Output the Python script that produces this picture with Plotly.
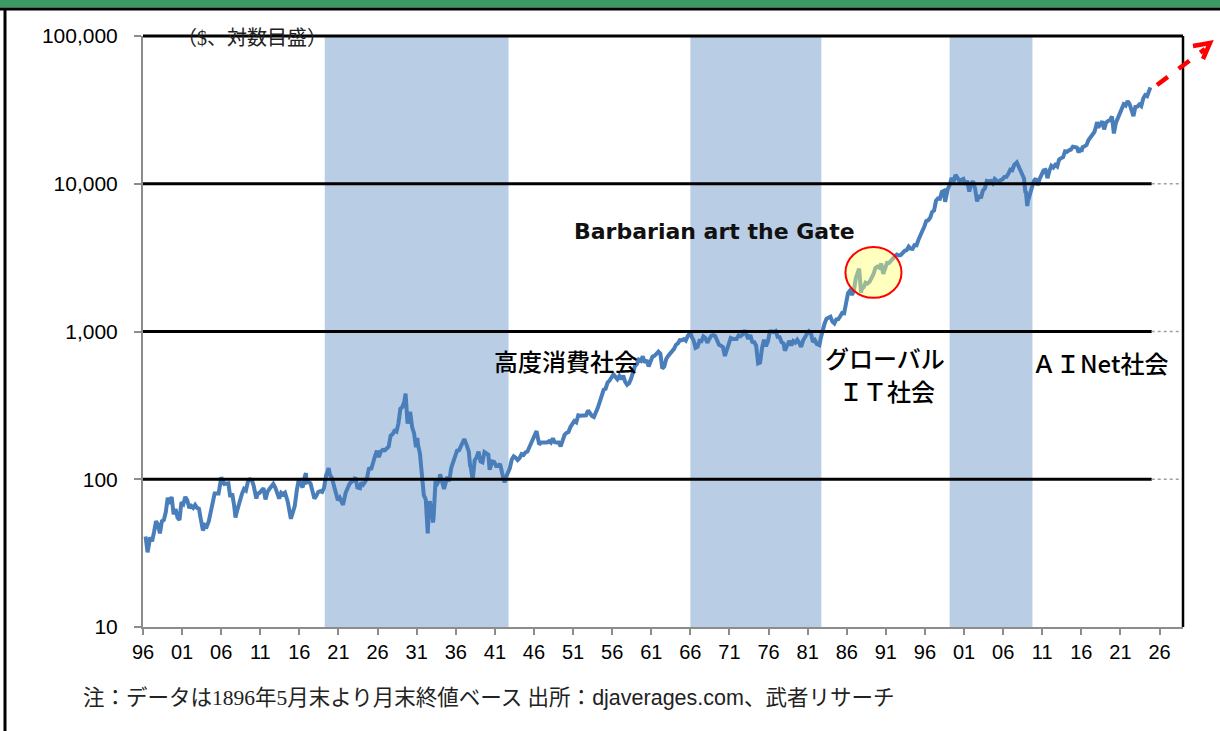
import plotly.graph_objects as go

# ---------------- data ----------------
dates = [
 "1896-05","1896-08","1896-12",
 "1897-03","1897-06","1897-09","1897-12",
 "1898-03","1898-06","1898-09","1898-12",
 "1899-03","1899-06","1899-09","1899-12",
 "1900-03","1900-06","1900-09","1900-12",
 "1901-03","1901-06","1901-09","1901-12",
 "1902-03","1902-06","1902-09","1902-12",
 "1903-03","1903-06","1903-09","1903-12",
 "1904-03","1904-06","1904-09","1904-12",
 "1905-03","1905-06","1905-09","1905-12",
 "1906-01","1906-06","1906-09","1906-12",
 "1907-03","1907-06","1907-09","1907-11","1907-12",
 "1908-03","1908-06","1908-09","1908-12",
 "1909-03","1909-06","1909-09","1909-12",
 "1910-03","1910-07","1910-09","1910-12",
 "1911-03","1911-06","1911-09","1911-12",
 "1912-03","1912-06","1912-09","1912-12",
 "1913-03","1913-06","1913-09","1913-12",
 "1914-03","1914-07","1914-12",
 "1915-03","1915-06","1915-09","1915-12",
 "1916-03","1916-06","1916-09","1916-11","1916-12",
 "1917-03","1917-06","1917-09","1917-12",
 "1918-03","1918-06","1918-09","1918-12",
 "1919-03","1919-06","1919-10","1919-12",
 "1920-03","1920-06","1920-09","1920-12",
 "1921-03","1921-06","1921-08","1921-12",
 "1922-03","1922-06","1922-09","1922-12",
 "1923-03","1923-06","1923-10","1923-12",
 "1924-03","1924-06","1924-09","1924-12",
 "1925-03","1925-06","1925-09","1925-12",
 "1926-03","1926-06","1926-09","1926-12",
 "1927-03","1927-06","1927-09","1927-12",
 "1928-03","1928-06","1928-09","1928-12",
 "1929-03","1929-06","1929-08","1929-10","1929-11","1929-12",
 "1930-03","1930-06","1930-09","1930-12",
 "1931-02","1931-03","1931-06","1931-09","1931-12",
 "1932-03","1932-05","1932-06","1932-07","1932-09","1932-12",
 "1933-02","1933-03","1933-06","1933-07","1933-09","1933-12",
 "1934-01","1934-03","1934-07","1934-12",
 "1935-03","1935-06","1935-09","1935-12",
 "1936-03","1936-06","1936-09","1936-12",
 "1937-02","1937-06","1937-09","1937-11","1937-12",
 "1938-03","1938-06","1938-09","1938-12",
 "1939-03","1939-06","1939-09","1939-12",
 "1940-03","1940-05","1940-09","1940-12",
 "1941-03","1941-06","1941-09","1941-12",
 "1942-04","1942-06","1942-09","1942-12",
 "1943-03","1943-06","1943-09","1943-12",
 "1944-03","1944-06","1944-09","1944-12",
 "1945-03","1945-06","1945-09","1945-12",
 "1946-03","1946-05","1946-09","1946-12",
 "1947-03","1947-06","1947-09","1947-12",
 "1948-03","1948-06","1948-09","1948-12",
 "1949-03","1949-06","1949-09","1949-12",
 "1950-03","1950-06","1950-09","1950-12",
 "1951-03","1951-06","1951-09","1951-12",
 "1952-03","1952-06","1952-09","1952-12",
 "1953-03","1953-06","1953-09","1953-12",
 "1954-03","1954-06","1954-09","1954-12",
 "1955-03","1955-06","1955-09","1955-12",
 "1956-03","1956-06","1956-09","1956-12",
 "1957-03","1957-06","1957-09","1957-12",
 "1958-03","1958-06","1958-09","1958-12",
 "1959-03","1959-06","1959-09","1959-12",
 "1960-03","1960-06","1960-09","1960-12",
 "1961-03","1961-06","1961-09","1961-12",
 "1962-03","1962-06","1962-09","1962-12",
 "1963-03","1963-06","1963-09","1963-12",
 "1964-03","1964-06","1964-09","1964-12",
 "1965-03","1965-06","1965-09","1965-12",
 "1966-01","1966-03","1966-06","1966-09","1966-12",
 "1967-03","1967-06","1967-09","1967-12",
 "1968-03","1968-06","1968-09","1968-12",
 "1969-03","1969-06","1969-09","1969-12",
 "1970-03","1970-06","1970-09","1970-12",
 "1971-03","1971-06","1971-09","1971-12",
 "1972-03","1972-06","1972-09","1972-12",
 "1973-03","1973-06","1973-09","1973-12",
 "1974-03","1974-06","1974-09","1974-12",
 "1975-03","1975-06","1975-09","1975-12",
 "1976-03","1976-06","1976-09","1976-12",
 "1977-03","1977-06","1977-09","1977-12",
 "1978-02","1978-06","1978-09","1978-12",
 "1979-03","1979-06","1979-09","1979-12",
 "1980-03","1980-06","1980-09","1980-12",
 "1981-03","1981-06","1981-09","1981-12",
 "1982-03","1982-07","1982-09","1982-12",
 "1983-03","1983-06","1983-09","1983-12",
 "1984-03","1984-06","1984-09","1984-12",
 "1985-03","1985-06","1985-09","1985-12",
 "1986-03","1986-06","1986-09","1986-12",
 "1987-03","1987-08","1987-10","1987-11","1987-12",
 "1988-03","1988-06","1988-09","1988-12",
 "1989-03","1989-06","1989-09","1989-12",
 "1990-03","1990-06","1990-09","1990-12",
 "1991-03","1991-06","1991-09","1991-12",
 "1992-03","1992-06","1992-09","1992-12",
 "1993-03","1993-06","1993-09","1993-12",
 "1994-03","1994-06","1994-09","1994-12",
 "1995-03","1995-06","1995-09","1995-12",
 "1996-03","1996-06","1996-09","1996-12",
 "1997-03","1997-06","1997-09","1997-12",
 "1998-03","1998-06","1998-08","1998-12",
 "1999-03","1999-06","1999-09","1999-12",
 "2000-03","2000-06","2000-09","2000-12",
 "2001-03","2001-06","2001-09","2001-12",
 "2002-03","2002-06","2002-09","2002-12",
 "2003-03","2003-06","2003-09","2003-12",
 "2004-03","2004-06","2004-09","2004-12",
 "2005-03","2005-06","2005-09","2005-12",
 "2006-03","2006-06","2006-09","2006-12",
 "2007-03","2007-06","2007-10","2007-12",
 "2008-03","2008-06","2008-09","2008-11","2008-12",
 "2009-02","2009-03","2009-06","2009-09","2009-12",
 "2010-03","2010-06","2010-09","2010-12",
 "2011-03","2011-06","2011-09","2011-12",
 "2012-03","2012-06","2012-09","2012-12",
 "2013-03","2013-06","2013-09","2013-12",
 "2014-03","2014-06","2014-09","2014-12",
 "2015-03","2015-06","2015-09","2015-12",
 "2016-01","2016-03","2016-06","2016-09","2016-12",
 "2017-03","2017-06","2017-09","2017-12",
 "2018-01","2018-03","2018-09","2018-12",
 "2019-03","2019-06","2019-09","2019-12",
 "2020-03","2020-06","2020-09","2020-12",
 "2021-03","2021-06","2021-09","2021-12",
 "2022-03","2022-06","2022-09","2022-12",
 "2023-03","2023-06","2023-09","2023-12",
 "2024-03","2024-06","2024-09","2024-11",
]

dow = [
 40.9, 32, 40.5,
 38, 44, 52, 49,
 43, 52, 53, 60,
 75, 68, 76, 58,
 63, 55, 53, 70,
 68, 76, 72, 64,
 66, 64, 67, 64,
 63, 53, 45, 49,
 48, 52, 59, 69,
 80, 80, 80, 96,
 103, 93, 94, 94,
 76, 80, 66, 55, 58,
 65, 75, 80, 86,
 84, 96, 100, 99,
 90, 74, 80, 81,
 84, 87, 73, 82,
 86, 89, 93, 88,
 80, 74, 81, 79,
 81, 71, 54,
 61, 66, 84, 99,
 93, 88, 103, 110, 95,
 96, 94, 83, 74,
 77, 82, 83, 82,
 88, 106, 119, 107,
 102, 91, 82, 72,
 75, 68, 67, 81,
 87, 93, 96, 98,
 103, 88, 87, 95,
 92, 96, 103, 120,
 116, 131, 143, 156,
 141, 154, 158, 157,
 161, 166, 197, 202,
 213, 210, 239, 300,
 308, 333, 380, 273, 238, 248,
 286, 226, 204, 165,
 190, 172, 150, 97, 78,
 73, 45, 43, 54, 71, 60,
 51, 55, 98, 90, 94, 100,
 108, 101, 86, 104,
 97, 119, 132, 144,
 156, 157, 167, 180,
 187, 169, 154, 123, 121,
 99, 134, 141, 154,
 132, 130, 153, 150,
 147, 116, 132, 131,
 123, 123, 127, 111,
 95, 103, 109, 119,
 136, 143, 140, 135,
 139, 148, 146, 152,
 154, 165, 181, 193,
 200, 212, 172, 177,
 177, 177, 177, 181,
 177, 189, 178, 177,
 177, 167, 182, 200,
 206, 209, 226, 235,
 248, 243, 271, 269,
 270, 274, 271, 292,
 280, 268, 264, 281,
 304, 334, 361, 404,
 410, 451, 466, 488,
 512, 493, 475, 500,
 475, 503, 456, 436,
 446, 478, 532, 584,
 602, 644, 632, 679,
 616, 641, 580, 616,
 676, 684, 701, 731,
 707, 561, 579, 652,
 683, 707, 733, 763,
 814, 832, 875, 874,
 889, 868, 931, 969,
 984, 924, 870, 774, 786,
 865, 860, 927, 905,
 840, 898, 935, 944,
 935, 873, 813, 800,
 786, 683, 760, 839,
 904, 891, 887, 890,
 940, 929, 953, 1020,
 951, 891, 947, 851,
 847, 802, 608, 616,
 768, 879, 794, 852,
 999, 1003, 990, 1005,
 919, 916, 847, 831,
 742, 819, 866, 805,
 862, 842, 879, 839,
 786, 868, 932, 964,
 1004, 977, 850, 875,
 823, 809, 896, 1047,
 1130, 1222, 1233, 1259,
 1165, 1132, 1207, 1212,
 1267, 1336, 1329, 1547,
 1819, 1893, 1768, 1896,
 2305, 2663, 1994, 1834, 1939,
 1989, 2142, 2113, 2169,
 2294, 2441, 2693, 2753,
 2707, 2881, 2453, 2634,
 2914, 2907, 3017, 3169,
 3236, 3319, 3272, 3301,
 3436, 3516, 3555, 3754,
 3636, 3625, 3843, 3834,
 4158, 4556, 4789, 5117,
 5588, 5655, 5882, 6448,
 6584, 7673, 7945, 7908,
 8800, 8952, 7539, 9181,
 9786, 10971, 10337, 11497,
 10922, 10448, 10651, 10788,
 9879, 10502, 8848, 10022,
 10404, 9243, 7592, 8342,
 7992, 8985, 9275, 10454,
 10358, 10435, 10080, 10783,
 10504, 10275, 10569, 10718,
 11109, 11150, 11679, 12463,
 12354, 13409, 13930, 13265,
 12263, 11350, 10851, 8829, 8776,
 7063, 7609, 8447, 9712, 10428,
 10857, 9774, 10788, 11578,
 12320, 12414, 10913, 12218,
 13212, 12880, 13437, 13104,
 14579, 14910, 15130, 16577,
 16458, 16827, 17043, 17823,
 17776, 17620, 16285, 17425,
 16466, 17685, 17930, 18308, 19763,
 20663, 21350, 22405, 24719,
 26149, 24103, 26458, 23327,
 25929, 26600, 26917, 28538,
 21917, 25813, 27782, 30606,
 32982, 34503, 33844, 36338,
 34678, 30775, 28726, 33147,
 33274, 34408, 33508, 37690,
 39807, 39119, 42330, 44910,
]
assert len(dates) == len(dow)

# shaded eras (start, end)
era_starts = ["1919-04-01", "1966-01-01", "1999-03-01"]
era_ends = ["1942-10-01", "1982-10-01", "2009-10-01"]

x_tick_vals = ["1896-01-01", "1901-01-01", "1906-01-01", "1911-01-01", "1916-01-01",
               "1921-01-01", "1926-01-01", "1931-01-01", "1936-01-01", "1941-01-01",
               "1946-01-01", "1951-01-01", "1956-01-01", "1961-01-01", "1966-01-01",
               "1971-01-01", "1976-01-01", "1981-01-01", "1986-01-01", "1991-01-01",
               "1996-01-01", "2001-01-01", "2006-01-01", "2011-01-01", "2016-01-01",
               "2021-01-01", "2026-01-01"]
x_tick_text = ["96", "01", "06", "11", "16", "21", "26", "31", "36", "41", "46", "51",
               "56", "61", "66", "71", "76", "81", "86", "91", "96", "01", "06", "11",
               "16", "21", "26"]
y_tick_vals = [10, 100, 1000, 10000, 100000]
y_tick_text = ["10", "100", "1,000", "10,000", "100,000"]
ref_lines = [100, 1000, 10000]

# ---------------- layout helpers ----------------
W, H = 1220, 731
L, R, T, B = 143, 1183, 36, 627


def px(x):
    return (x - L) / (R - L)


def py(y):
    return (B - y) / (B - T)


fig = go.Figure()
fig.add_trace(go.Scatter(x=dates, y=dow, mode="lines",
                         line=dict(color="#4A7EBB", width=4),
                         hoverinfo="skip", showlegend=False))

shapes = []
for s, e in zip(era_starts, era_ends):
    shapes.append(dict(type="rect", xref="x", yref="paper", x0=s, x1=e, y0=0, y1=1,
                       fillcolor="#B9CDE5", line=dict(width=0), layer="below"))
for v in ref_lines:
    shapes.append(dict(type="line", xref="x", yref="y", x0="1896-01-01", x1="2025-01-01",
                       y0=v, y1=v, line=dict(color="black", width=3), layer="above"))
    shapes.append(dict(type="line", xref="x", yref="y", x0="2025-01-01", x1="2029-01-01",
                       y0=v, y1=v, line=dict(color="#A0A0A0", width=1.5, dash="dot"),
                       layer="above"))
shapes.append(dict(type="line", xref="paper", yref="paper", x0=0, x1=1, y0=1, y1=1,
                   line=dict(color="black", width=3)))
shapes.append(dict(type="line", xref="paper", yref="paper", x0=1, x1=1, y0=0, y1=1,
                   line=dict(color="black", width=2.5)))
# header bar + outer frame
shapes.append(dict(type="rect", xref="paper", yref="paper", x0=px(-2), x1=px(W + 2),
                   y0=py(7.5), y1=py(-2), fillcolor="#3A9B62", line=dict(width=0)))
shapes.append(dict(type="line", xref="paper", yref="paper", x0=px(0), x1=px(W + 2),
                   y0=py(9), y1=py(9), line=dict(color="black", width=3)))
shapes.append(dict(type="line", xref="paper", yref="paper", x0=px(5), x1=px(5),
                   y0=py(8), y1=py(H + 2), line=dict(color="black", width=3)))
# highlighted ellipse
shapes.append(dict(type="circle", xref="x", yref="y", x0="1985-11-01", x1="1993-01-01",
                   y0=1690, y1=3730, fillcolor="rgba(255,255,110,0.45)",
                   line=dict(color="#FF0000", width=2), layer="above"))
# red dashed arrow
shapes.append(dict(type="line", xref="paper", yref="paper", x0=px(1157), y0=py(85),
                   x1=px(1205), y1=py(49), line=dict(color="#FF0000", width=4.5, dash="dash")))
shapes.append(dict(type="path", xref="paper", yref="paper",
                   path=f"M{px(1193)},{py(46)} L{px(1210)},{py(43)} L{px(1203)},{py(59)}",
                   line=dict(color="#FF0000", width=4.5)))

ann = []
jp = "Noto Sans CJK JP, Liberation Sans"


def label(text, x, y, size, family=jp, color="black", xanchor="center", weight=None):
    f = dict(size=size, color=color, family=family)
    if weight:
        f["weight"] = weight
    ann.append(dict(text=text, x=px(x), y=py(y), xref="paper", yref="paper",
                    xanchor=xanchor, yanchor="middle", showarrow=False, font=f))


label("（$、対数目盛）", 252, 38, 20, family="Liberation Serif, Noto Sans CJK JP", color="#222")
label("<b>Barbarian art the Gate</b>", 714, 232, 22, family="DejaVu Sans", color="#111")
label("高度消費社会", 566, 360, 24, weight=500)
label("グローバル", 885, 358, 24, weight=500)
label("ＩＴ社会", 887, 390, 24, weight=500)
label("ＡＩNet社会", 1100, 362, 24, weight=500)
label("注：データは1896年5月末より月末終値ベース 出所："
      "<span style='font-family:Liberation Sans'>djaverages.com</span>、武者リサーチ",
      81, 698, 21.5, family="Liberation Serif, Noto Sans CJK JP", color="#222", xanchor="left")

fig.update_layout(
    width=W, height=H, autosize=False,
    margin=dict(l=L, r=W - R, t=T, b=H - B, pad=0),
    paper_bgcolor="white", plot_bgcolor="white",
    font=dict(family="Liberation Sans, Arial, sans-serif", color="black"),
    shapes=shapes, annotations=ann, showlegend=False,
    xaxis=dict(type="date", range=["1896-01-01", "2029-01-01"],
               tickmode="array", tickvals=x_tick_vals, ticktext=x_tick_text,
               showgrid=False, zeroline=False, showline=True, linecolor="#8C8C8C",
               linewidth=2, ticks="outside", ticklen=6, tickwidth=2, tickcolor="#8C8C8C",
               tickfont=dict(size=20, color="black"), fixedrange=True),
    yaxis=dict(type="log", range=[1, 5], tickmode="array", tickvals=y_tick_vals,
               ticktext=y_tick_text, showgrid=False, zeroline=False, showline=True,
               linecolor="#8C8C8C", linewidth=2, ticks="outside", ticklen=7, tickwidth=2,
               tickcolor="#8C8C8C", tickfont=dict(size=21, color="black"),
               ticklabelstandoff=12, fixedrange=True),
)

fig.write_html("out.html", config={"displayModeBar": False},
               post_script="document.body.style.margin='0';")
